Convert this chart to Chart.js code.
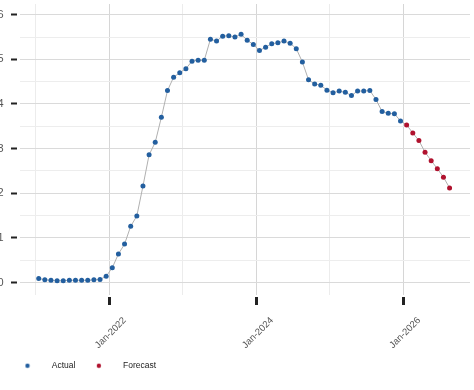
<!DOCTYPE html>
<html>
<head>
<meta charset="utf-8">
<script src="https://cdn.jsdelivr.net/npm/chart.js@4.4.0/dist/chart.umd.min.js"></script>
<style>
  html, body { margin: 0; padding: 0; background: #fff; }
</style>
</head>
<body>
<canvas id="rateChart" width="474" height="390"></canvas>
<script>

// monthly values, first point = Jan 2021
var actualValues = [
  0.09, 0.06, 0.05, 0.04, 0.04, 0.05, 0.05, 0.05, 0.05, 0.06, 0.07, 0.14,
  0.33, 0.64, 0.86, 1.26, 1.49, 2.16, 2.86, 3.14, 3.70, 4.30, 4.60, 4.70,
  4.79, 4.96, 4.98, 4.98, 5.45, 5.41, 5.52, 5.53, 5.50, 5.56, 5.43, 5.33,
  5.20, 5.27, 5.35, 5.37, 5.41, 5.36, 5.24, 4.94, 4.54, 4.45, 4.42, 4.31,
  4.25, 4.29, 4.26, 4.19, 4.29, 4.29, 4.30, 4.10, 3.83, 3.79, 3.78, 3.62
];
var forecastValues = [3.53, 3.35, 3.18, 2.92, 2.73, 2.55, 2.36, 2.12];

var xTickMonths = [0, 12, 24, 36, 48, 60];
var xTickLabels = ['', 'Jan-2022', '', 'Jan-2024', '', 'Jan-2026'];
var yTicks = [0, 0.5, 1, 1.5, 2, 2.5, 3, 3.5, 4, 4.5, 5, 5.5, 6];

var FONT = '"Liberation Sans", Arial, sans-serif';

function toPoints(values, start){
  // points sit in the middle of their month
  return values.map(function(v, i){ return {x: start + i + 0.5, y: v}; });
}

function makeDot(color){
  var c = document.createElement('canvas');
  c.width = 6; c.height = 6;
  var g = c.getContext('2d');
  g.fillStyle = color;
  g.beginPath();
  g.arc(3, 3, 2.2, 0, Math.PI * 2);
  g.fill();
  return c;
}

// legend starts a little right of the y axis labels
var legendShift = {
  id: 'legendShift',
  afterLayout: function(chart){ chart.legend.left += 4; }
};

function init(){
  var actual = toPoints(actualValues, 0);
  var forecast = toPoints(forecastValues, actualValues.length);
  var ctx = document.getElementById('rateChart').getContext('2d');

  new Chart(ctx, {
    type: 'scatter',
    data: {
      datasets: [{
        label: 'Actual',
        data: actual,
        backgroundColor: '#235f9f',
        pointRadius: 2.5,
        pointBorderWidth: 0
      }, {
        label: 'Forecast',
        data: forecast,
        backgroundColor: '#b0122e',
        pointRadius: 2.5,
        pointBorderWidth: 0
      }, {
        label: 'line',
        data: actual.concat(forecast),
        showLine: true,
        borderColor: '#b0b0b0',
        borderWidth: 1,
        pointRadius: 0
      }]
    },
    plugins: [legendShift],
    options: {
      responsive: false,
      animation: false,
      layout: { padding: { left: 0, right: 0, top: 0, bottom: 10 } },
      scales: {
        x: {
          type: 'linear',
          min: -2.55,
          max: 70.83,
          afterBuildTicks: function(s){ s.ticks = xTickMonths.map(function(v){ return {value: v}; }); },
          afterFit: function(s){ s.height = 63; s.paddingLeft = 0; s.paddingRight = 0; },
          border: { display: false },
          grid: {
            color: function(c){ return xTickLabels[c.index] ? '#d6d6d6' : '#ececec'; },
            lineWidth: 1,
            tickLength: 10,
            tickWidth: 3,
            tickColor: function(c){ return xTickLabels[c.index] ? '#222' : 'rgba(0,0,0,0)'; },
            tickBorderDash: [0, 2, 8, 10]
          },
          ticks: {
            autoSkip: false,
            minRotation: 45,
            maxRotation: 45,
            padding: 9.8,
            labelOffset: 15.5,
            color: '#555',
            font: { family: FONT, size: 9.5 },
            callback: function(v, i){ return xTickLabels[i]; }
          }
        },
        y: {
          min: -0.28,
          max: 6.24,
          afterBuildTicks: function(s){ s.ticks = yTicks.map(function(v){ return {value: v}; }); },
          afterFit: function(s){ s.width = 20; s.paddingTop = 0; s.paddingBottom = 0; },
          border: { display: false },
          grid: {
            color: function(c){ return Number.isInteger(c.tick.value) ? '#dadada' : '#ededed'; },
            lineWidth: 1,
            tickLength: 9,
            tickWidth: 2,
            tickColor: function(c){ return Number.isInteger(c.tick.value) ? '#222' : 'rgba(0,0,0,0)'; },
            tickBorderDash: [6, 10]
          },
          ticks: {
            autoSkip: false,
            padding: 7.5,
            color: '#555',
            font: { family: FONT, size: 11 },
            callback: function(v){ return Number.isInteger(v) ? v : ''; }
          }
        }
      },
      plugins: {
        tooltip: { enabled: false },
        legend: {
          position: 'bottom',
          align: 'start',
          labels: {
            usePointStyle: true,
            pointStyleWidth: 40,
            padding: 3.5,
            color: '#222',
            font: { family: FONT, size: 8.5 },
            generateLabels: function(chart){
              var items = Chart.defaults.plugins.legend.labels.generateLabels(chart);
              return items.filter(function(it){ return it.datasetIndex < 2; }).map(function(it){
                it.pointStyle = makeDot(chart.data.datasets[it.datasetIndex].backgroundColor);
                return it;
              });
            }
          }
        }
      }
    }
  });
}

init();
</script>
</body>
</html>
